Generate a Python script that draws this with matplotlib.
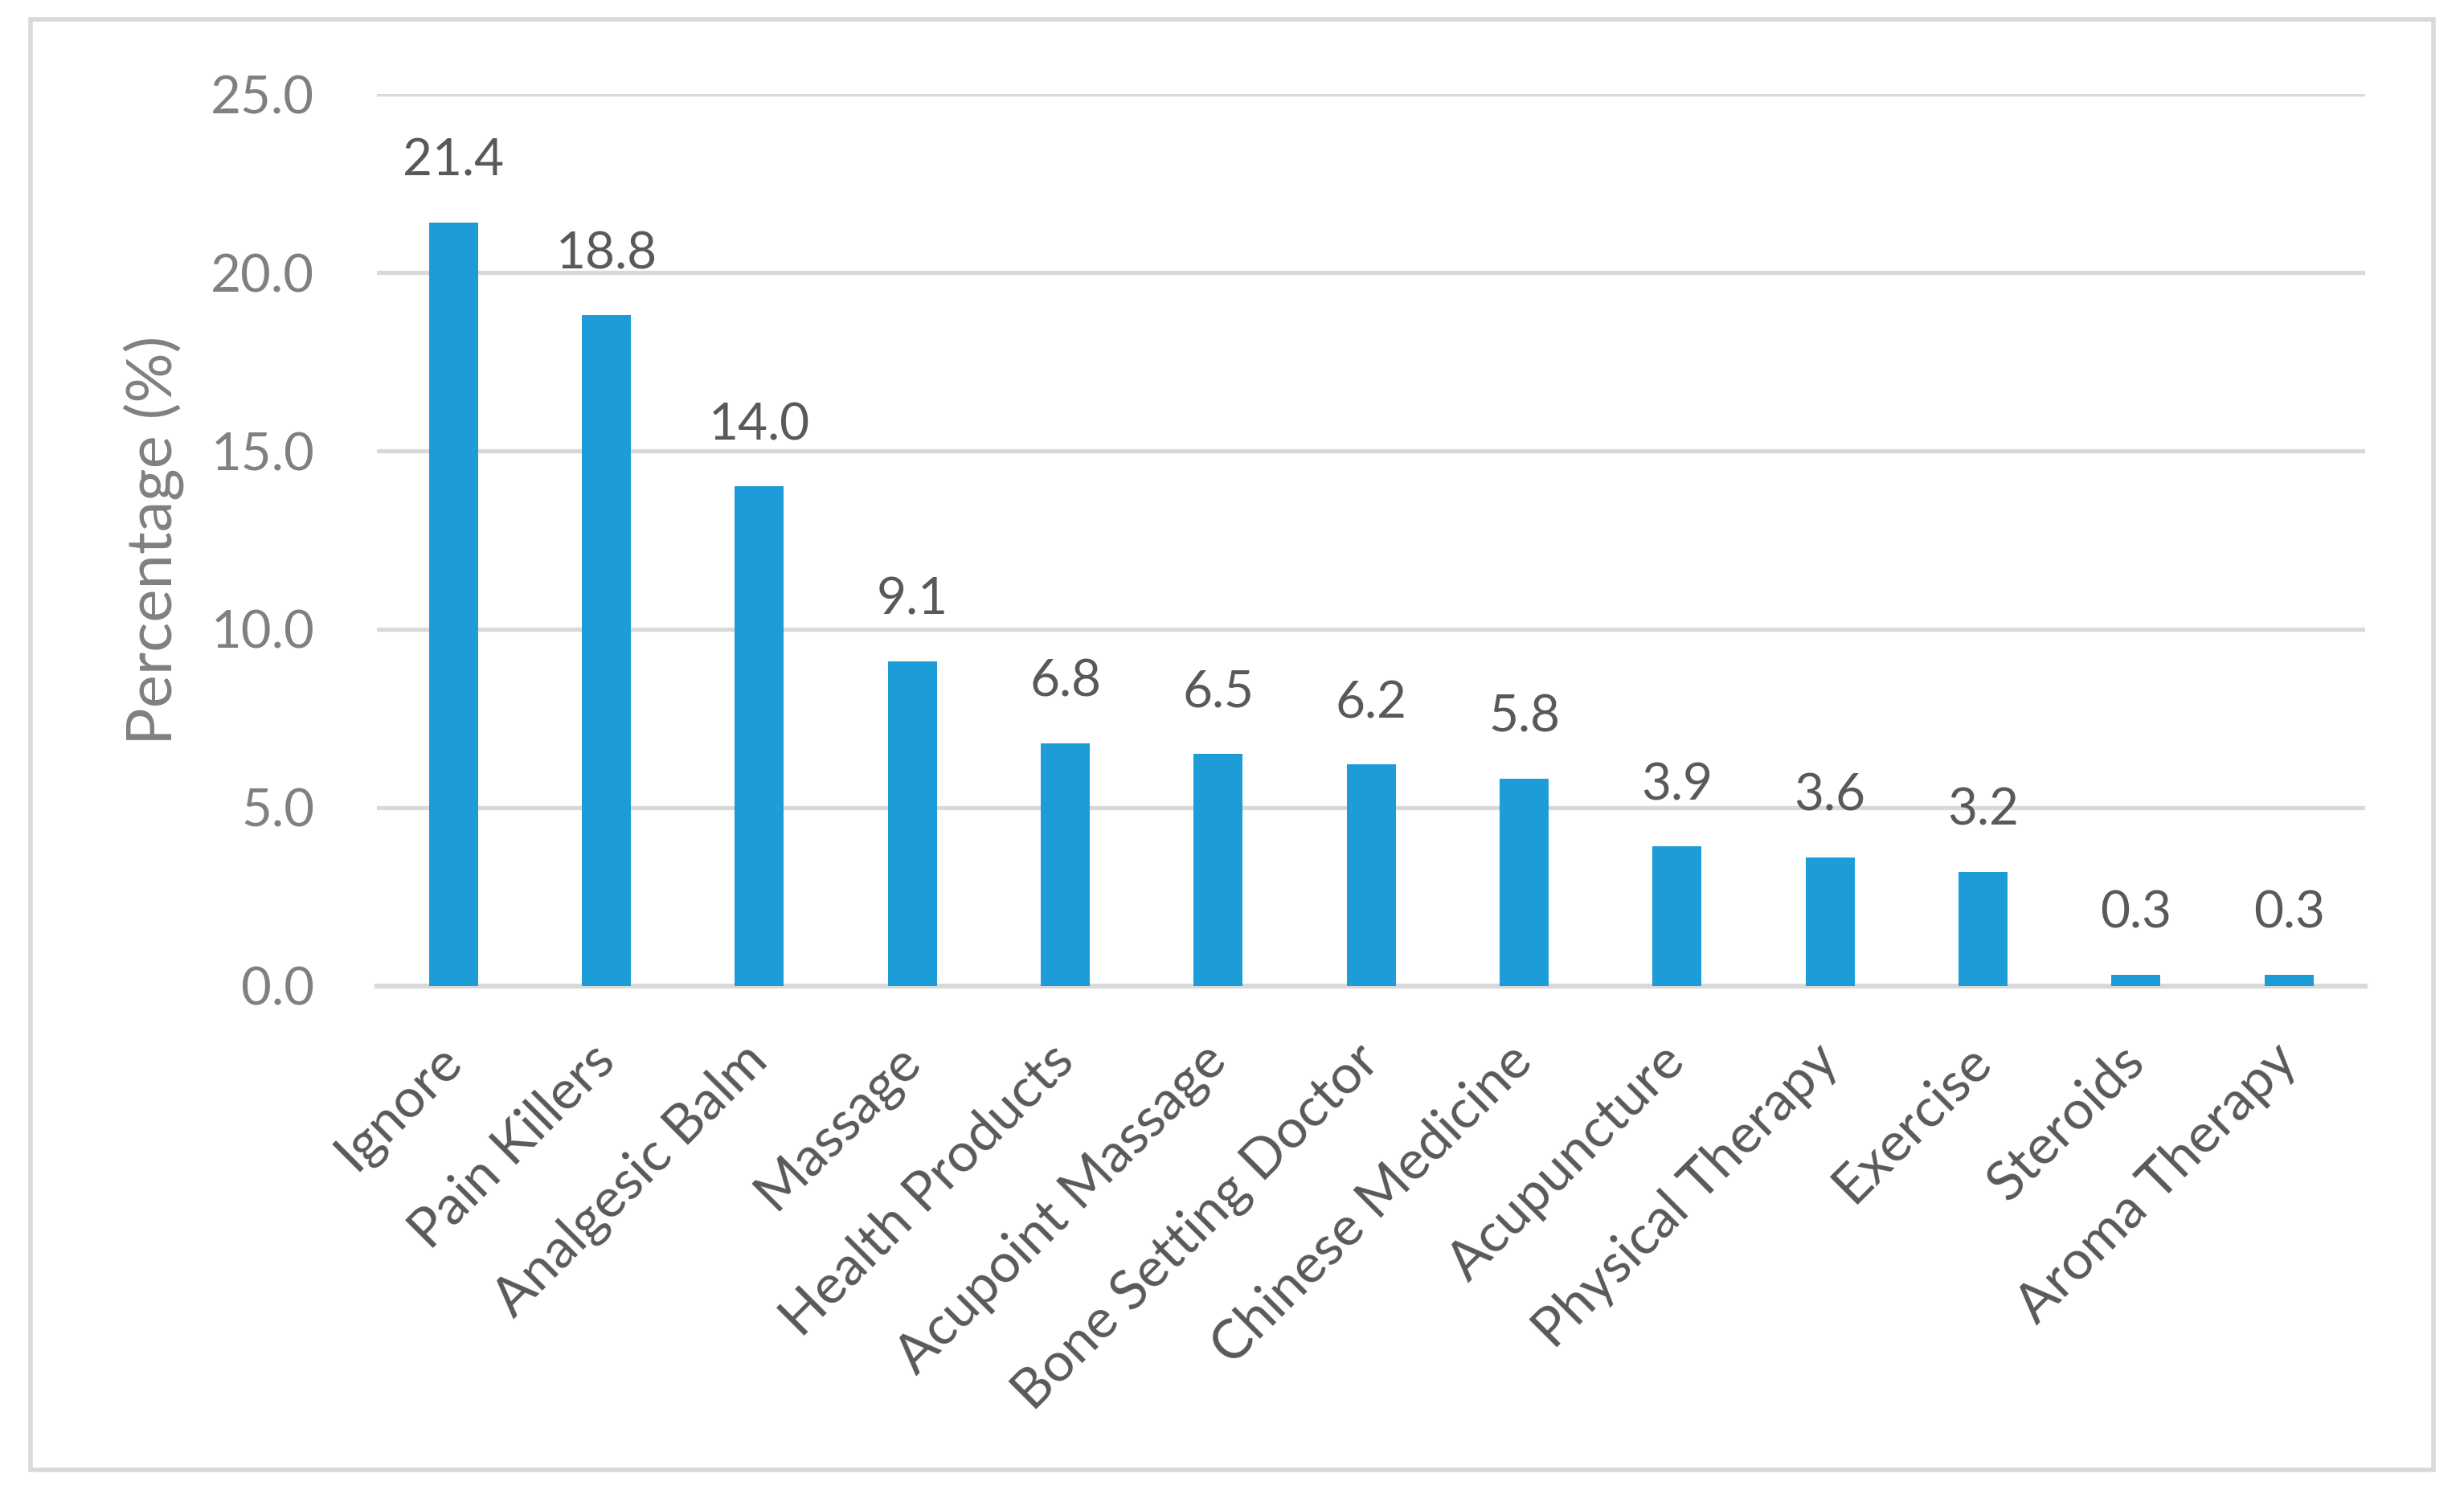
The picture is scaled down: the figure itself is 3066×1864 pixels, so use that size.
import matplotlib.pyplot as plt
from matplotlib.patches import Rectangle

categories = [
    "Ignore", "Pain Killers", "Analgesic Balm", "Massage", "Health Products",
    "Acupoint Massage", "Bone Setting Doctor", "Chinese Medicine", "Acupuncture",
    "Physical Therapy", "Exercise", "Steroids", "Aroma Therapy"
]
percentages = [21.4, 18.8, 14.0, 9.1, 6.8, 6.5, 6.2, 5.8, 3.9, 3.6, 3.2, 0.3, 0.3]
y_ticks = [0, 5, 10, 15, 20, 25]

plt.rcParams['font.family'] = ['Lato', 'DejaVu Sans']

bar_color = '#1e9cd8'
grid_color = '#d9d9d9'

fig = plt.figure(figsize=(15.33, 9.32), dpi=200)
ax = fig.add_axes([0.153, 0.342, 0.807, 0.595])

x = range(len(categories))
bars = ax.bar(x, percentages, width=0.32, color=bar_color, zorder=3)

# value labels above each bar
for xi, v in zip(x, percentages):
    ax.annotate(f"{v:.1f}", (xi, v), xytext=(0, 17), textcoords='offset points',
                ha='center', va='bottom', fontsize=23, color='#595959')

ax.set_xlim(-0.5, len(categories) - 0.5)
ax.set_ylim(0, 25)
ax.set_yticks(y_ticks)
ax.set_yticklabels([f"{t:.1f}" for t in y_ticks], fontsize=23.5, color='#808080')
ax.yaxis.grid(True, color=grid_color, linewidth=1.9, zorder=0)
ax.set_axisbelow(True)

ax.set_xticks(list(x))
ax.set_xticklabels(categories, rotation=45, ha='right', va='center',
                   rotation_mode='anchor', fontsize=24.5, color='#595959')
ax.tick_params(axis='both', length=0)
ax.tick_params(axis='x', pad=30)
ax.tick_params(axis='y', pad=28)
for lbl in ax.get_xticklabels():
    lbl.set_x(lbl.get_position()[0])

for side in ['top', 'right', 'left']:
    ax.spines[side].set_visible(False)
ax.spines['bottom'].set_color(grid_color)
ax.spines['bottom'].set_linewidth(2.2)

ax.set_ylabel('Percentage (%)', fontsize=28, color='#808080', labelpad=12)

# light outer frame around the chart
fig.patches.append(Rectangle((0.0125, 0.019), 0.975, 0.968, transform=fig.transFigure,
                             fill=False, edgecolor=grid_color, linewidth=2.0))

fig.savefig("out.png", dpi=200, facecolor='white')
